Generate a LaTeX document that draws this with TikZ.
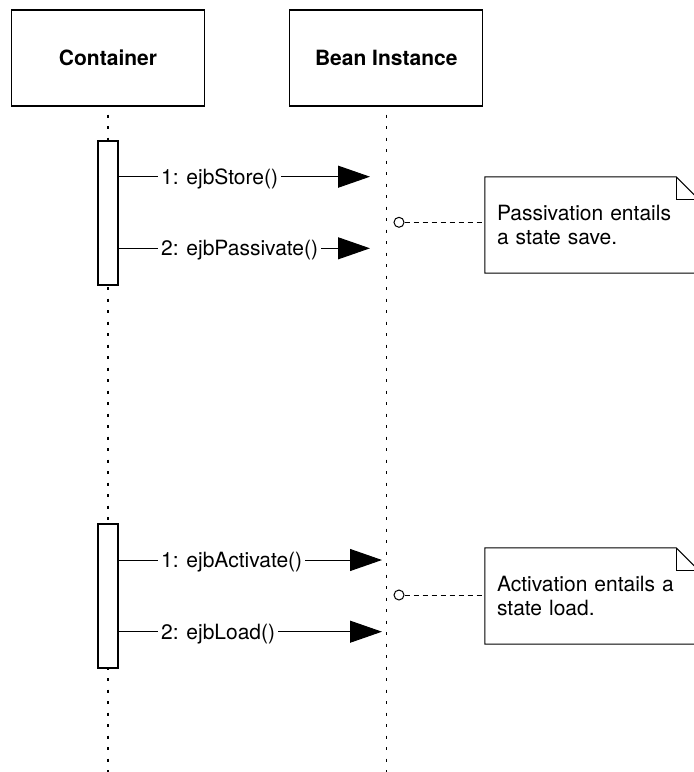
\documentclass[tikz,border=0pt]{standalone}
\usepackage{fontspec}
\setmainfont{TeX Gyre Heros}
\usetikzlibrary{positioning,arrows.meta}

\begin{document}
\begin{tikzpicture}[x=1pt,y=-1pt,
    font=\fontsize{21}{23.3}\selectfont,
    objbox/.style={draw, line width=1.3pt, minimum width=193pt, minimum height=96pt, font=\fontsize{21}{23.3}\selectfont\bfseries},
    lifeline/.style={line width=1.3pt, dash pattern=on 3pt off 8.5pt, dash phase=3.5pt},
    activation/.style={draw, fill=white, line width=1.3pt, minimum width=20pt, minimum height=144pt, inner sep=0pt},
    msg/.style={line width=1pt, -{Triangle[length=32pt,width=22pt]}},
    msglabel/.style={pos=0, anchor=base west, xshift=39pt, yshift=-7.6pt, fill=white, inner xsep=3pt, inner ysep=2pt},
    notebox/.style={align=left, text width=190pt, inner xsep=11pt, minimum width=214pt, minimum height=96pt},
    noteline/.style={line width=1pt},
    anchorpt/.style={circle, draw, fill=white, line width=1pt, minimum size=10pt, inner sep=0pt},
    notelink/.style={line width=1pt, dash pattern=on 5pt off 4pt}]
    \clip (0,0) rectangle (694,772);
    \coordinate (bottom) at (0,772);
    % Draw the two objects
    \node[objbox] (container) at (108,58) {Container};
    \node[objbox, right=84pt of container] (bean) {Bean Instance};
    % Draw the lifelines
    \draw[lifeline] (container.south) -- (container.south |- bottom);
    \draw[lifeline] (bean.south) -- (bean.south |- bottom);
    % Draw the activation bars
    \node[activation] (act1) at (108,213) {};
    \node[activation] (act2) at (108,596) {};
    % Draw the passivation messages
    \coordinate (store) at (370,176.7);
    \coordinate (passivate) at (370,248.3);
    \draw[msg] (act1.east |- store) -- (store) node[msglabel] (lbl1) {1: ejbStore()};
    \draw[msg] (act1.east |- passivate) -- (passivate) node[msglabel] (lbl2) {2: ejbPassivate()};
    % Draw the activation messages
    \coordinate (activate) at (382,560);
    \coordinate (load) at (382,631.7);
    \draw[msg] (act2.east |- activate) -- (activate) node[msglabel] (lbl3) {1: ejbActivate()};
    \draw[msg] (act2.east |- load) -- (load) node[msglabel] (lbl4) {2: ejbLoad()};
    % Draw the first note
    \node[notebox] (note1) at (592,225) {Passivation entails\\a state save.};
    \draw[noteline] (note1.north west) -- ([xshift=-23pt]note1.north east) -- ([yshift=-23pt]note1.north east) -- (note1.south east) -- (note1.south west) -- cycle;
    \draw[noteline] ([xshift=-23pt]note1.north east) |- ([yshift=-23pt]note1.north east);
    \node[anchorpt] (save) at (399,222.3) {};
    \draw[notelink] (save) -- (save -| note1.west);
    % Draw the second note
    \node[notebox] (note2) at (592,596) {Activation entails a\\state load.};
    \draw[noteline] (note2.north west) -- ([xshift=-23pt]note2.north east) -- ([yshift=-23pt]note2.north east) -- (note2.south east) -- (note2.south west) -- cycle;
    \draw[noteline] ([xshift=-23pt]note2.north east) |- ([yshift=-23pt]note2.north east);
    \node[anchorpt] (restore) at (399,595) {};
    \draw[notelink] (restore) -- (restore -| note2.west);
\end{tikzpicture}
\end{document}
